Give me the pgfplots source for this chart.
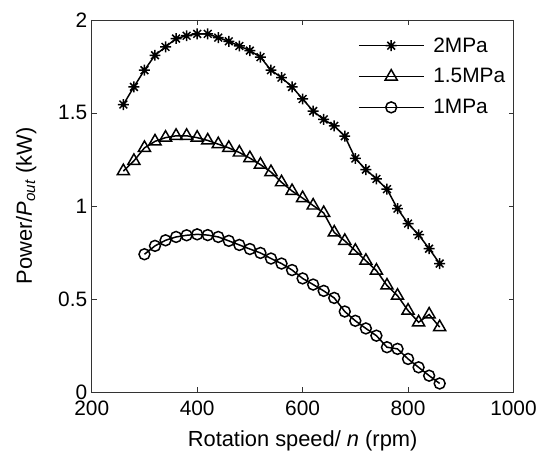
\documentclass[border=0pt]{standalone}
\usepackage{fontspec}
\setmainfont{Liberation Sans}
\usepackage{pgfplots}
\usepackage{pgfplotstable}
\pgfplotsset{compat=1.18}

% eight-armed asterisk, like the '*' marker of the original
\pgfdeclareplotmark{star8}{%
  \pgfpathmoveto{\pgfqpoint{0pt}{\pgfplotmarksize}}\pgfpathlineto{\pgfqpoint{0pt}{-\pgfplotmarksize}}%
  \pgfpathmoveto{\pgfqpoint{\pgfplotmarksize}{0pt}}\pgfpathlineto{\pgfqpoint{-\pgfplotmarksize}{0pt}}%
  \pgfpathmoveto{\pgfqpoint{0.7071\pgfplotmarksize}{0.7071\pgfplotmarksize}}\pgfpathlineto{\pgfqpoint{-0.7071\pgfplotmarksize}{-0.7071\pgfplotmarksize}}%
  \pgfpathmoveto{\pgfqpoint{-0.7071\pgfplotmarksize}{0.7071\pgfplotmarksize}}\pgfpathlineto{\pgfqpoint{0.7071\pgfplotmarksize}{-0.7071\pgfplotmarksize}}%
  \pgfusepathqstroke}

% power at 2 MPa
\pgfplotstableread{
n    P
260  1.545
280  1.64
300  1.73
320  1.81
340  1.855
360  1.90
380  1.915
400  1.925
420  1.925
440  1.905
460  1.885
480  1.86
500  1.835
520  1.80
540  1.73
560  1.69
580  1.64
600  1.575
620  1.51
640  1.465
660  1.43
680  1.375
700  1.255
720  1.195
740  1.145
760  1.09
780  0.985
800  0.905
820  0.845
840  0.77
860  0.69
}\twompa

% power at 1.5 MPa
\pgfplotstableread{
n    P
260  1.187
280  1.242
300  1.312
320  1.347
340  1.367
360  1.377
380  1.377
400  1.367
420  1.352
440  1.332
460  1.312
480  1.287
500  1.257
520  1.222
540  1.182
560  1.127
580  1.080
600  1.042
620  1.002
640  0.962
660  0.857
680  0.812
700  0.759
720  0.705
740  0.652
760  0.572
780  0.517
800  0.437
820  0.374
840  0.416
860  0.348
}\onefivempa

% power at 1 MPa
\pgfplotstableread{
n    P
300  0.74
320  0.785
340  0.815
360  0.833
380  0.842
400  0.847
420  0.843
440  0.833
460  0.812
480  0.79
500  0.768
520  0.747
540  0.717
560  0.69
580  0.655
600  0.61
620  0.577
640  0.543
660  0.505
680  0.432
700  0.382
720  0.341
740  0.302
760  0.24
780  0.231
800  0.177
820  0.132
840  0.087
860  0.045
}\onempa

\begin{document}
\begin{tikzpicture}
\begin{axis}[
  scale only axis, width=423bp, height=373bp,
  xmin=200, xmax=1000, ymin=0, ymax=2,
  xtick={200,400,...,1000}, ytick={0,0.5,...,2},
  tick align=inside, major tick length=5bp,
  axis line style={black!80, line width=0.6pt}, tick style={black!80, line width=0.6pt},
  /pgf/number format/assume math mode=true,
  /pgf/number format/1000 sep={},
  ticklabel style={font=\fontsize{21}{24}\selectfont},
  xticklabel style={yshift=-5.5bp},
  yticklabel style={xshift=-1bp},
  label style={font=\fontsize{22}{26}\selectfont},
  xlabel={Rotation speed/ \textit{n} (rpm)},
  ylabel={Power/\textit{P}\textsubscript{\textit{out}} (kW)},
  xlabel style={at={(axis description cs:0.5,-0.1475)}, anchor=base},
  ylabel style={at={(axis description cs:-0.1418,0.5)}, anchor=base},
  legend style={draw=none, fill=none, at={(axis description cs:0.631,0.961)}, anchor=north west,
    inner sep=0pt, font=\fontsize{21}{24}\selectfont, nodes={inner sep=3bp}, row sep=9bp},
  legend cell align=left,
  legend image code/.code={\draw[mark repeat=2, mark phase=2] plot coordinates {(0bp,0bp) (32.5bp,0bp) (65bp,0bp)};},
  every axis plot/.append style={black, line width=1.5pt, mark options={solid}},
]
\addplot[mark=star8, mark size=5.5pt] table[x=n, y=P] {\twompa};
\addplot[mark=triangle, mark size=7pt] table[x=n, y=P] {\onefivempa};
\addplot[mark=o, mark size=5.5pt] table[x=n, y=P] {\onempa};
\legend{\hspace*{6bp}2MPa, \hspace*{6bp}1.5MPa, \hspace*{6bp}1MPa}
\end{axis}
\path (current axis.south west) ++(-92bp,-61bp) coordinate (bbsw);
\path (current axis.north east) ++(25bp,20bp) coordinate (bbne);
\useasboundingbox (bbsw) rectangle (bbne);
\end{tikzpicture}
\end{document}
